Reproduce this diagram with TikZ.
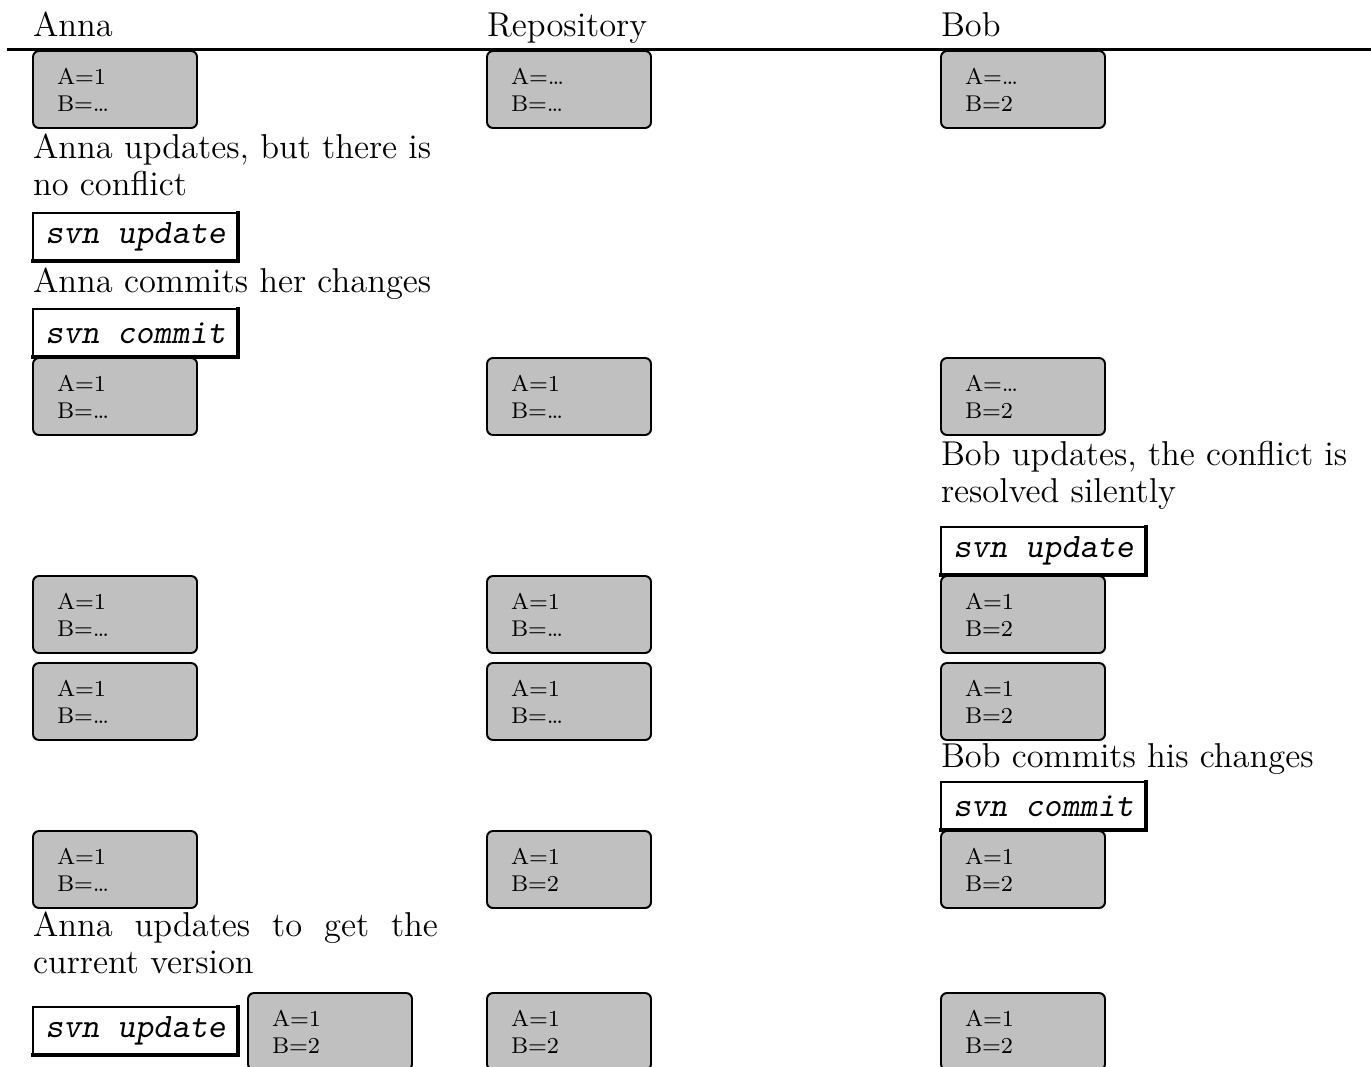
\documentclass[tikz,border=0pt]{standalone}
\usepackage{fontspec}
\definecolor{statefill}{RGB}{192,192,192}
\begin{document}
\begin{tikzpicture}[x=0.33333pt,y=-0.33333pt,
  every node/.style={inner sep=0pt, outer sep=0pt},
  state/.style={draw=black, line width=0.65pt, fill=statefill, rounded corners=2pt,
    anchor=north west, minimum width=54.67pt, minimum height=25.67pt,
    inner xsep=8pt, text width=38.67pt, align=left,
    font=\fontsize{7.6}{9}\selectfont},
  cmd/.style={draw=black, line width=0.6pt, fill=white, anchor=north west,
    minimum width=68.33pt, minimum height=16pt,
    font=\ttfamily\slshape\fontsize{11.43}{13}\selectfont},
  cmdshade/.style={line width=1.2pt, line cap=rect},
  remark/.style={anchor=base west, font=\fontsize{11.5}{12.3}\selectfont},
]
\useasboundingbox (0,0) rectangle (1371,1067);
\clip (0,0) rectangle (1371,1067);

% column headings and rule
\node[remark] (hanna) at (33,37) {Anna};
\node[remark] (hrepo) at (487,37) {Repository};
\node[remark] (hbob)  at (941,37) {Bob};
\coordinate (ruleL) at (7,49.5);
\coordinate (ruleR) at (1371,49.5);
\draw[line width=1pt] (ruleL) -- (ruleR);

% initial working copies
\node[state] (a1) at (33,51)  {A=1\\B=\ldots};
\node[state] (r1) at (487,51) {A=\ldots\\B=\ldots};
\node[state] (b1) at (941,51) {A=\ldots\\B=2};

% Anna updates and commits
\node[remark] (t1a) at (33,159) {Anna updates, but there is};
\node[remark] (t1b) at (33,196) {no conflict};
\node[cmd] (c1) at (33,213) {svn update};
\draw[cmdshade] (c1.north east) -- (c1.south east) -- (c1.south west);
\node[remark] (t2) at (33,293) {Anna commits her changes};
\node[cmd] (c2) at (33,309) {svn commit};
\draw[cmdshade] (c2.north east) -- (c2.south east) -- (c2.south west);

\node[state] (a2) at (33,358)  {A=1\\B=\ldots};
\node[state] (r2) at (487,358) {A=1\\B=\ldots};
\node[state] (b2) at (941,358) {A=\ldots\\B=2};

% Bob updates
\node[remark] (t3a) at (941,466) {Bob updates, the conflict is};
\node[remark] (t3b) at (941,503) {resolved silently};
\node[cmd] (c3) at (941,527) {svn update};
\draw[cmdshade] (c3.north east) -- (c3.south east) -- (c3.south west);

\node[state] (a3) at (33,576)  {A=1\\B=\ldots};
\node[state] (r3) at (487,576) {A=1\\B=\ldots};
\node[state] (b3) at (941,576) {A=1\\B=2};

\node[state] (a4) at (33,663)  {A=1\\B=\ldots};
\node[state] (r4) at (487,663) {A=1\\B=\ldots};
\node[state] (b4) at (941,663) {A=1\\B=2};

% Bob commits
\node[remark] (t4) at (941,768) {Bob commits his changes};
\node[cmd] (c4) at (941,782) {svn commit};
\draw[cmdshade] (c4.north east) -- (c4.south east) -- (c4.south west);

\node[state] (a5) at (33,831)  {A=1\\B=\ldots};
\node[state] (r5) at (487,831) {A=1\\B=2};
\node[state] (b5) at (941,831) {A=1\\B=2};

% Anna updates again
\node[remark] (t5a) at (33,937) {\makebox[135pt][s]{Anna updates to get the}};
\node[remark] (t5b) at (33,974) {current version};
\node[cmd] (c5) at (33,1007) {svn update};
\draw[cmdshade] (c5.north east) -- (c5.south east) -- (c5.south west);

\node[state] (a6) at (248,993) {A=1\\B=2};
\node[state] (r6) at (487,993) {A=1\\B=2};
\node[state] (b6) at (941,993) {A=1\\B=2};
\end{tikzpicture}
\end{document}
